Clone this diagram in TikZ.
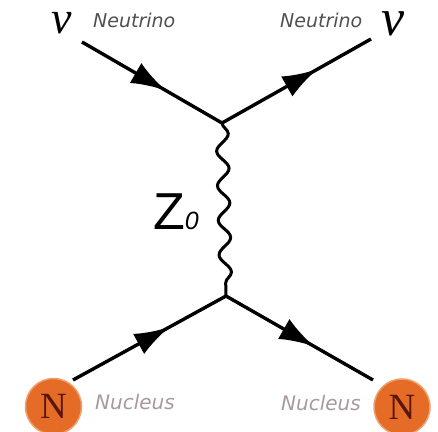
\documentclass[tikz,border=0pt]{standalone}
\usepackage{fontspec}
\usetikzlibrary{arrows.meta,decorations.markings,decorations.pathmorphing}
\newfontfamily\dejavu{DejaVu Sans}
\newfontfamily\libsans{Liberation Sans}
\newfontfamily\libserif{Liberation Serif}
\definecolor{nucorange}{RGB}{228,108,38}
\definecolor{nucedge}{RGB}{240,160,110}
\definecolor{nletter}{RGB}{90,22,14}
\definecolor{neutgray}{RGB}{80,80,80}
\definecolor{nucgray}{RGB}{168,152,160}
\tikzset{
  fermion/.style={line width=3.4pt, postaction={decorate},
    decoration={markings, mark=at position #1 with {\arrow{Latex[length=35pt,width=23pt]}}}},
  fermion/.default=0.6,
  boson/.style={line width=3pt, decorate,
    decoration={snake, amplitude=6pt, segment length=34.6pt}},
  nucball/.style={circle, fill=nucorange, draw=nucedge, line width=1.5pt,
    minimum size=56pt, inner sep=0pt, text=nletter,
    font=\libserif\fontsize{37}{37}\selectfont},
  neutlabel/.style={anchor=base west, inner sep=0pt, text=neutgray,
    font=\dejavu\itshape\fontsize{19}{19}\selectfont},
  nuclabel/.style={anchor=base west, inner sep=0pt, text=nucgray,
    font=\dejavu\itshape\fontsize{20}{20}\selectfont},
  nusym/.style={anchor=base west, inner sep=0pt, text height=21pt, text depth=0pt,
    font=\libserif\itshape}
}
\begin{document}
\begin{tikzpicture}[x=1pt,y=-1pt]
\useasboundingbox (0,0) rectangle (438,431);
% vertices and free ends
\coordinate (vt) at (222,123);
\coordinate (vb) at (226,296);
\coordinate (inL) at (82,42);
\coordinate (outR) at (371,39);
\coordinate (nL) at (73,380);
\coordinate (nR) at (373,380);
% nuclei
\node[nucball] (ballL) at (53.5,406.5) {N};
\node[nucball] (ballR) at (402,407) {N};
% labels
\node[nusym] (nuL) at (51,33) {\fontsize{46}{46}\selectfont ν};
\node[nusym] (nuR) at (381,35) {\fontsize{52}{52}\selectfont ν};
\node[neutlabel] (neutL) at (93,27) {Neutrino};
\node[neutlabel] (neutR) at (280,27) {Neutrino};
\node[nuclabel] (nucL) at (95,409) {Nucleus};
\node[nuclabel] (nucR) at (281,410) {Nucleus};
\node[anchor=base west, inner sep=0pt] (zlab) at (153,229)
  {\libsans\fontsize{52}{52}\selectfont Z\fontsize{25}{25}\selectfont\itshape 0};
% lines
\draw[fermion=0.6] (inL) -- (vt);
\draw[fermion=0.64] (vt) -- (outR);
\draw[fermion=0.63] (nL) -- (vb);
\draw[fermion=0.6] (vb) -- (nR);
\draw[boson] (vt) -- (vb);
\end{tikzpicture}
\end{document}
